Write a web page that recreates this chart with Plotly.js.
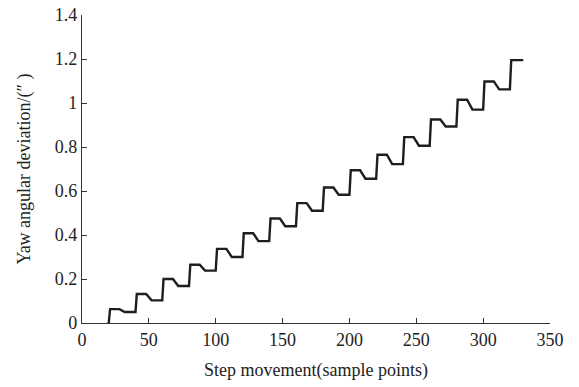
<!DOCTYPE html>
<html>
<head>
<meta charset="utf-8">
<script src="https://cdn.plot.ly/plotly-3.0.1.min.js"></script>
<style>html,body{margin:0;padding:0;background:#fff;}#chart{width:579px;height:387px;}</style>
</head>
<body>
<div id="chart"></div>
<script>
// Sample index where each step jump occurs
var stepX = [20, 40, 60, 80, 100, 120, 140, 160, 180, 200, 220, 240, 260, 280, 300, 320];
// Peak value right after each jump
var highY = [0.063, 0.132, 0.200, 0.265, 0.337, 0.408, 0.475, 0.545, 0.616, 0.694, 0.765, 0.845, 0.925, 1.015, 1.098, 1.195];
// Settled value after the small relaxation following each jump
var lowY  = [0.050, 0.103, 0.168, 0.238, 0.300, 0.372, 0.440, 0.510, 0.583, 0.656, 0.722, 0.806, 0.893, 0.970, 1.062];
var startX = 19, startY = 0;
var endX = 330;
var xTicks = [0, 50, 100, 150, 200, 250, 300, 350];
var yTicks = [0, 0.2, 0.4, 0.6, 0.8, 1, 1.2, 1.4];
var yTickText = ['0', '0.2', '0.4', '0.6', '0.8', '1', '1.2', '1.4'];

var xs = [startX], ys = [startY];
var prev = startY;
for (var i = 0; i < stepX.length; i++) {
  var s = stepX[i];
  xs.push(s); ys.push(prev);
  xs.push(s + 1); ys.push(highY[i]);
  if (i < lowY.length) {
    xs.push(s + 8); ys.push(highY[i]);
    xs.push(s + 12); ys.push(lowY[i]);
    prev = lowY[i];
  } else {
    xs.push(endX); ys.push(highY[i]);
  }
}

var trace = {
  x: xs, y: ys, type: 'scatter', mode: 'lines',
  line: {color: '#1e1e1e', width: 2.4, shape: 'linear'},
  hoverinfo: 'skip', showlegend: false
};

var font = {family: '"Liberation Serif", "Times New Roman", serif', size: 18, color: '#222'};
var layout = {
  width: 579, height: 387,
  margin: {l: 82, r: 29, t: 15, b: 64},
  paper_bgcolor: '#fff', plot_bgcolor: '#fff',
  font: font,
  showlegend: false,
  xaxis: {
    range: [0, 350], tickvals: xTicks, ticktext: xTicks.map(String),
    ticks: 'inside', ticklen: 5, tickwidth: 1, tickcolor: '#333',
    showline: true, linecolor: '#333', linewidth: 1.2, mirror: false,
    showgrid: false, zeroline: false,
    tickfont: font,
    title: {text: 'Step movement(sample points)', font: font, standoff: 14}
  },
  yaxis: {
    range: [0, 1.4], tickvals: yTicks, ticktext: yTickText,
    ticks: 'inside', ticklen: 5, tickwidth: 1, tickcolor: '#333',
    showline: true, linecolor: '#333', linewidth: 1.2, mirror: false,
    showgrid: false, zeroline: false,
    tickfont: font,
    title: {text: 'Yaw angular deviation/(\u2033 )', font: font, standoff: 19}
  }
};
Plotly.newPlot('chart', [trace], layout, {staticPlot: true, displayModeBar: false});
</script>
</body>
</html>
